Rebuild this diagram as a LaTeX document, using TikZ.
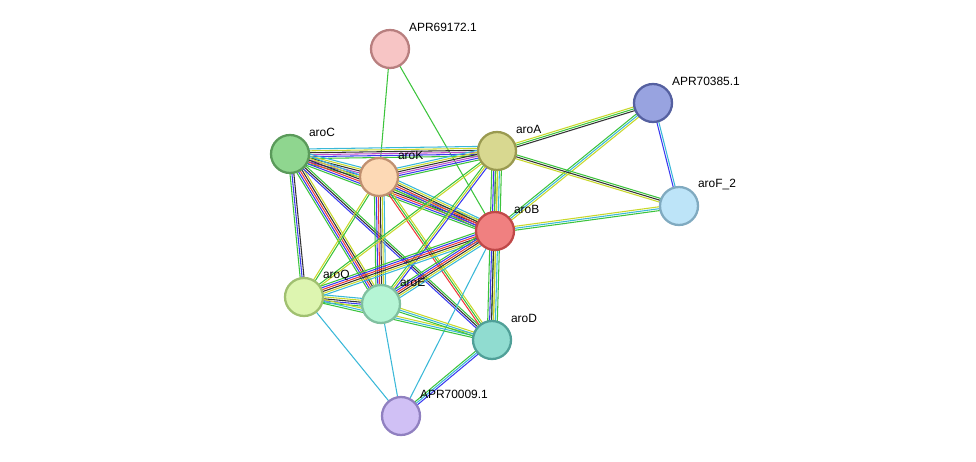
\documentclass[tikz,border=0pt]{standalone}
\usepackage{fontspec}
\setmainfont{Liberation Sans}
\usetikzlibrary{calc, backgrounds}
\definecolor{sgreen}{HTML}{3CC43C}
\definecolor{sblue}{HTML}{3A3AF0}
\definecolor{sred}{HTML}{F03A3A}
\definecolor{sblack}{HTML}{333333}
\definecolor{syellow}{HTML}{C8D82A}
\definecolor{scyan}{HTML}{3AB8D8}
\definecolor{spurple}{HTML}{C050C8}
\tikzset{
    protnode/.style = {draw, circle, minimum size=0.76cm, inner sep=0em, line width=1.3pt},
    lbl/.style = {anchor=west, inner sep=0pt, xshift=0.09cm, yshift=0.15cm,
      font=\fontsize{6.8}{8}\selectfont},
    linkline/.style = {line width=0.6pt}
}
% #1,#2 node names, #3 number of lines, #4 colours
\newcommand\mlink[4]{%
  \foreach \c [count=\i] in {#4} {
    \pgfmathsetmacro\off{(\i-(#3+1)/2)*1.1}
    \draw [linkline, \c] ($(#1.center)!\off pt!90:(#2.center)$) -- ($(#2.center)!\off pt!-90:(#1.center)$);
  }}
\begin{document}
\begin{tikzpicture}[x=0.02cm, y=-0.02cm]
    \useasboundingbox (0,0) rectangle (976,462);

    \node [name=a69, protnode, fill={rgb,255:red,247;green,197;blue,197}, draw={rgb,255:red,184;green,127;blue,127},
        label={[lbl]45:APR69172.1}] at (390,49) {};
    \node [name=a385, protnode, fill={rgb,255:red,152;green,163;blue,224}, draw={rgb,255:red,85;green,96;blue,160},
        label={[lbl]45:APR70385.1}] at (653,103) {};
    \node [name=aroC, protnode, fill={rgb,255:red,143;green,214;blue,143}, draw={rgb,255:red,90;green,154;blue,90},
        label={[lbl]45:aroC}] at (290,154) {};
    \node [name=aroA, protnode, fill={rgb,255:red,216;green,216;blue,144}, draw={rgb,255:red,154;green,154;blue,80},
        label={[lbl]45:aroA}] at (497,151) {};
    \node [name=aroK, protnode, fill={rgb,255:red,253;green,217;blue,181}, draw={rgb,255:red,192;green,144;blue,112},
        label={[lbl]45:aroK}] at (379,177) {};
    \node [name=aroF, protnode, fill={rgb,255:red,189;green,228;blue,248}, draw={rgb,255:red,128;green,170;blue,192},
        label={[lbl]45:aroF\_2}] at (679,206) {};
    \node [name=aroB, protnode, fill={rgb,255:red,240;green,128;blue,128}, draw={rgb,255:red,192;green,72;blue,72},
        label={[lbl]45:aroB}] at (495,231) {};
    \node [name=aroQ, protnode, fill={rgb,255:red,221;green,245;blue,176}, draw={rgb,255:red,160;green,192;blue,112},
        label={[lbl]45:aroQ}] at (304,297) {};
    \node [name=aroE, protnode, fill={rgb,255:red,181;green,245;blue,213}, draw={rgb,255:red,128;green,192;blue,160},
        label={[lbl]45:aroE}] at (381,304) {};
    \node [name=aroD, protnode, fill={rgb,255:red,144;green,220;blue,208}, draw={rgb,255:red,80;green,160;blue,152},
        label={[lbl]45:aroD}] at (492,340) {};
    \node [name=a009, protnode, fill={rgb,255:red,208;green,192;blue,245}, draw={rgb,255:red,144;green,128;blue,192},
        label={[lbl]45:APR70009.1}] at (401,416) {};

    \begin{scope}[on background layer]
    \mlink{a69}{aroK}{1}{sgreen}
    \mlink{a69}{aroB}{1}{sgreen}
    \mlink{a385}{aroA}{3}{syellow, sgreen, sblack}
    \mlink{a385}{aroF}{2}{sblue, scyan}
    \mlink{a385}{aroB}{3}{sgreen, scyan, syellow}
    \mlink{aroA}{aroF}{3}{syellow, sblack, sgreen}
    \mlink{aroB}{aroF}{3}{sgreen, scyan, syellow}
    \mlink{aroC}{aroA}{6}{sgreen, sblue, spurple, sblack, syellow, scyan}
    \mlink{aroC}{aroK}{6}{sgreen, sblue, spurple, sblack, syellow, scyan}
    \mlink{aroC}{aroB}{6}{sgreen, sblue, sred, sblack, syellow, scyan}
    \mlink{aroC}{aroQ}{3}{sgreen, sblue, sblack}
    \mlink{aroC}{aroE}{5}{sgreen, sblue, sred, sblack, syellow}
    \mlink{aroC}{aroD}{3}{sblue, sblack, sgreen}
    \mlink{aroK}{aroA}{6}{sgreen, sblue, spurple, sblack, syellow, scyan}
    \mlink{aroK}{aroB}{6}{sgreen, sblue, sred, sblack, syellow, scyan}
    \mlink{aroK}{aroQ}{2}{syellow, sgreen}
    \mlink{aroK}{aroE}{6}{sgreen, sblue, sred, sblack, syellow, scyan}
    \mlink{aroK}{aroD}{3}{sred, sgreen, syellow}
    \mlink{aroA}{aroB}{6}{sgreen, sblue, sblack, syellow, scyan, sgreen}
    \mlink{aroA}{aroQ}{2}{sgreen, syellow}
    \mlink{aroA}{aroE}{3}{sgreen, syellow, sblue}
    \mlink{aroA}{aroD}{2}{sgreen, syellow}
    \mlink{aroB}{aroQ}{6}{sgreen, sblue, sred, sblack, syellow, scyan}
    \mlink{aroB}{aroE}{6}{sgreen, sblue, sred, sblack, syellow, scyan}
    \mlink{aroB}{aroD}{6}{sgreen, sblue, sblack, syellow, scyan, sgreen}
    \mlink{aroB}{a009}{1}{scyan}
    \mlink{aroQ}{aroE}{5}{sgreen, sblue, sblack, syellow, scyan}
    \mlink{aroQ}{aroD}{3}{sgreen, scyan, syellow}
    \mlink{aroE}{aroD}{3}{sgreen, scyan, syellow}
    \mlink{aroQ}{a009}{1}{scyan}
    \mlink{aroE}{a009}{1}{scyan}
    \mlink{aroD}{a009}{3}{sgreen, scyan, sblue}
    \end{scope}
\end{tikzpicture}
\end{document}
